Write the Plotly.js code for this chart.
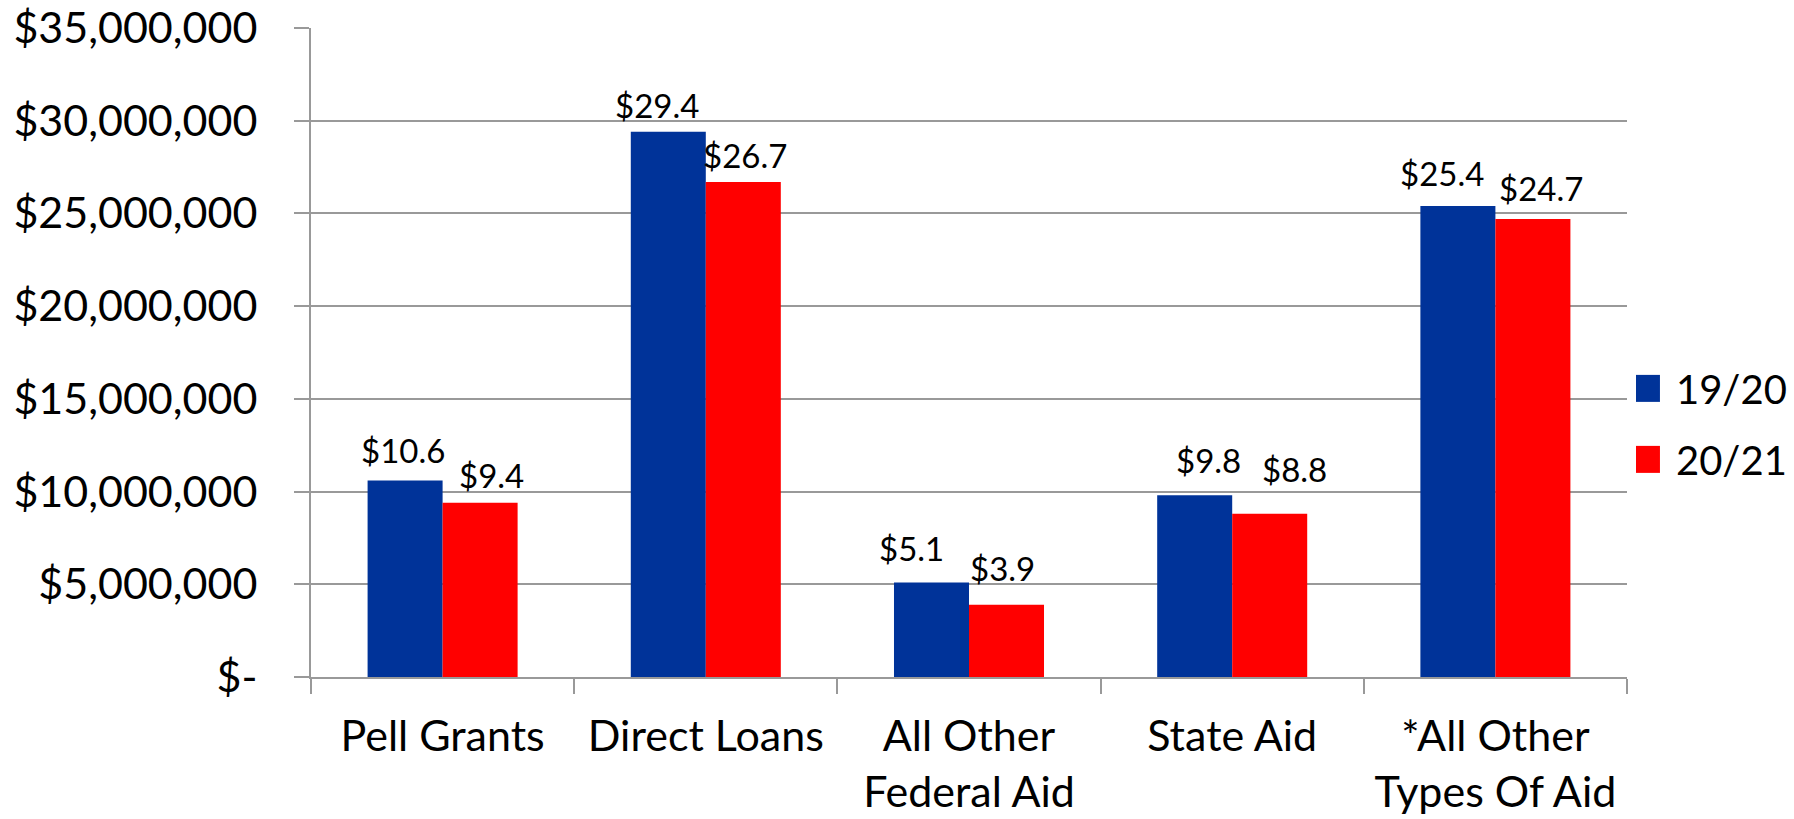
<!DOCTYPE html>
<html>
<head>
<meta charset="utf-8">
<script src="https://cdn.plot.ly/plotly-3.0.1.min.js"></script>
<style>
html, body { margin: 0; padding: 0; background: #fff; }
#chart { width: 1794px; height: 819px; }
</style>
</head>
<body>
<div id="chart"></div>
<script>
// ---- data ----
const categories = ["Pell Grants", "Direct Loans", "All Other<br>Federal Aid", "State Aid", "*All Other<br>Types Of Aid"];
const series1Name = "19/20";
const series2Name = "20/21";
const series1Values = [10600000, 29400000, 5100000, 9800000, 25400000];
const series2Values = [9400000, 26700000, 3900000, 8800000, 24700000];
const yTickVals = [0, 5000000, 10000000, 15000000, 20000000, 25000000, 30000000, 35000000];
const yTickText = ["$-", "$5,000,000", "$10,000,000", "$15,000,000", "$20,000,000", "$25,000,000", "$30,000,000", "$35,000,000"];

// ---- style ----
const FONT = "Lato, 'Open Sans', sans-serif";
const W = 1794, H = 819;
const M = { l: 311, r: 167, t: 28, b: 142 };
const BARGAP = 0.43;
const COLORS = ["#003399", "#FF0000"];
// label placement tweaks (px) mimicking the hand-placed labels of the original
const labelDx = [[-2, -11, -20, 14, -16], [11, 2, -4, 25, 8]];
const labelGap = [[16, 13, 20, 21, 19], [14, 13, 23, 31, 17]];

const fmt = v => "$" + (v / 1e6).toFixed(1);

const plotW = W - M.l - M.r;
const barW = (plotW / categories.length) * (1 - BARGAP) / 2;

const seriesVals = [series1Values, series2Values];
const seriesNames = [series1Name, series2Name];

const traces = seriesVals.map((vals, s) => ({
  type: "bar", name: seriesNames[s], x: categories, y: vals,
  marker: { color: COLORS[s] },
  hoverinfo: "none", legendgroup: "g" + s
}));

const annotations = [];
seriesVals.forEach((vals, s) => {
  vals.forEach((v, i) => {
    annotations.push({
      x: categories[i], y: v, xref: "x", yref: "y",
      text: fmt(v), showarrow: false,
      xanchor: "center", yanchor: "bottom",
      xshift: (s === 0 ? -barW / 2 : barW / 2) + labelDx[s][i],
      yshift: labelGap[s][i] - 8,
      font: { family: FONT, size: 33, color: "#000" }
    });
  });
});

const layout = {
  width: W, height: H,
  margin: { l: M.l, r: M.r, t: M.t, b: M.b, pad: 0, autoexpand: false },
  paper_bgcolor: "#fff", plot_bgcolor: "#fff",
  font: { family: FONT, size: 43, color: "#000" },
  barmode: "group", bargap: BARGAP, bargroupgap: 0,
  showlegend: true,
  annotations: annotations,
  legend: {
    x: 1.0068, xanchor: "left", y: 0.39, yanchor: "middle",
    font: { family: FONT, size: 40, color: "#000" },
    tracegroupgap: 16, bgcolor: "rgba(0,0,0,0)", borderwidth: 0
  },
  xaxis: {
    type: "category", tickson: "boundaries", ticks: "outside", ticklen: 15,
    tickcolor: "#999", tickwidth: 2, showline: true, linecolor: "#999", linewidth: 2,
    showgrid: false, ticklabelstandoff: 20, automargin: false,
    tickfont: { family: FONT, size: 43, color: "#000" }
  },
  yaxis: {
    range: [0, 35000000], tickvals: yTickVals, ticktext: yTickText,
    ticks: "outside", ticklen: 15, tickcolor: "#999", tickwidth: 2,
    showline: true, linecolor: "#999", linewidth: 2,
    showgrid: true, gridcolor: "#999", gridwidth: 2, zeroline: false,
    ticklabelstandoff: 28, automargin: false,
    tickfont: { family: FONT, size: 43, color: "#000" }
  }
};

Plotly.newPlot("chart", traces, layout, { staticPlot: true, displayModeBar: false }).then(gd => {
  gd.querySelectorAll(".legend .legendpoints path").forEach(p => {
    p.setAttribute("d", "M-23,-13.5H4V13.5H-23Z");
  });
});
</script>
</body>
</html>
